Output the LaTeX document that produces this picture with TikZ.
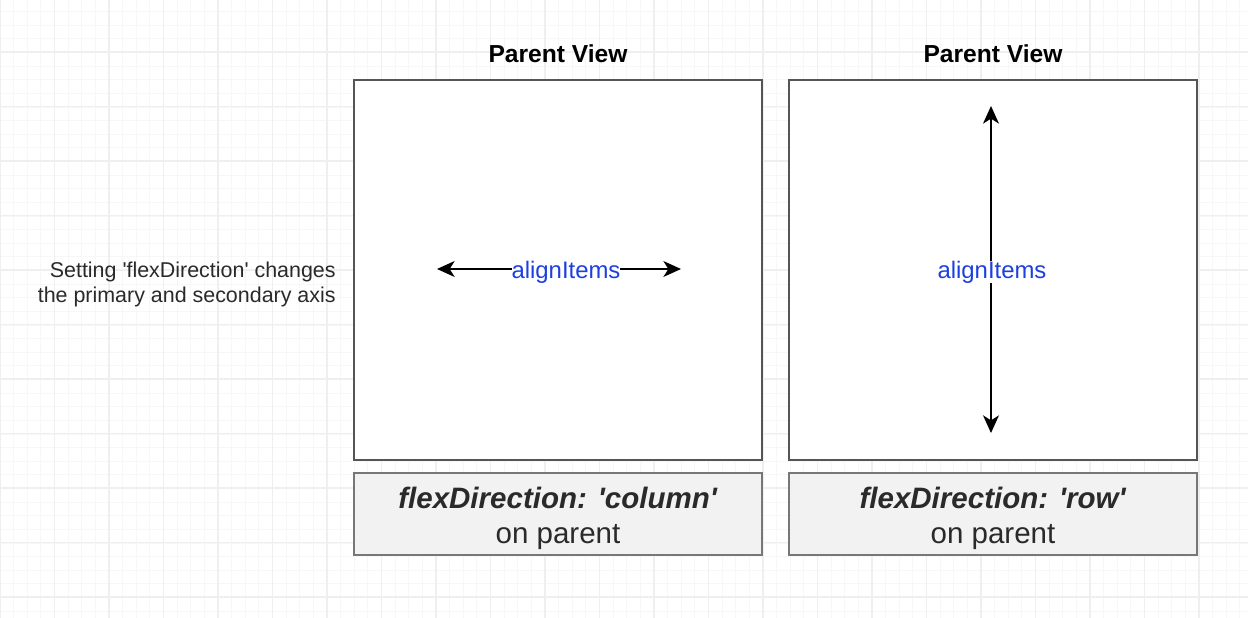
\documentclass[tikz,border=0pt]{standalone}
\usepackage{fontspec}
\setmainfont{Liberation Sans}[Ligatures=TeXOff]
\usetikzlibrary{arrows.meta}
\definecolor{gridminor}{HTML}{F7F7F7}
\definecolor{gridmajor}{HTML}{EFEFEF}
\definecolor{boxline}{HTML}{555555}
\definecolor{notefill}{HTML}{F2F2F2}
\definecolor{notetext}{HTML}{2A2A2A}
\definecolor{axisblue}{HTML}{1E3FE0}
\begin{document}
\begin{tikzpicture}[x=0.02cm,y=-0.02cm,
  viewbox/.style={draw=boxline,line width=1.3pt,fill=white,minimum width=408*0.02cm,minimum height=380*0.02cm,inner sep=0pt},
  notebox/.style={draw=boxline!80,line width=1pt,fill=notefill,minimum width=408*0.02cm,minimum height=82*0.02cm,inner sep=0pt},
  notetextstyle/.style={inner sep=0pt,align=center,text=notetext,font=\fontsize{16.8pt}{20pt}\selectfont},
  titletext/.style={font=\bfseries\fontsize{14pt}{17pt}\selectfont,text=black},
  axislabel/.style={fill=white,inner sep=0pt,text=axisblue,font=\fontsize{13.6pt}{16pt}\selectfont},
  axisarrow/.style={line width=1.3pt,{Stealth[length=10pt,width=9pt,inset=2.8pt]}-{Stealth[length=10pt,width=9pt,inset=2.8pt]}},
  sidetext/.style={align=right,text=notetext,font=\fontsize{12.2pt}{14.2pt}\selectfont,inner sep=0pt}]
\useasboundingbox (0,0) rectangle (1248,618);
\fill[white] (0,0) rectangle (1248,618);
% grid
\foreach \i in {0,...,92} {
  \draw[gridminor,line width=0.5pt] (\i*13.625,0) -- (\i*13.625,618);
}
\foreach \j in {0,...,46} {
  \draw[gridminor,line width=0.5pt] (0,\j*13.625-2) -- (1248,\j*13.625-2);
}
\foreach \i in {0,...,23} {
  \draw[gridmajor,line width=0.6pt] (\i*54.5,0) -- (\i*54.5,618);
}
\foreach \j in {0,...,11} {
  \draw[gridmajor,line width=0.6pt] (0,\j*54.5-2.5) -- (1248,\j*54.5-2.5);
}
% titles
\node[titletext] (t1) at (558,54) {Parent View};
\node[titletext] (t2) at (993,54) {Parent View};
% parent views
\node[viewbox] (v1) at (558,270) {};
\node[viewbox] (v2) at (993,270) {};
% notes
\node[notebox] (n1) at (558,514) {};
\node[notebox] (n2) at (993,514) {};
\node[notetextstyle] (n1t) at (558,518) {\textbf{\textit{flexDirection: 'column'}}\\on parent};
\node[notetextstyle] (n2t) at (993,518) {\textbf{\textit{flexDirection: 'row'}}\\on parent};
% arrows
\coordinate (l1) at (437,269);
\coordinate (r1) at (681,269);
\draw[axisarrow] (l1) -- (r1);
\node[axislabel] (a1) at (566,272) {alignItems};
\coordinate (u2) at (991,106);
\coordinate (d2) at (991,433);
\draw[axisarrow] (u2) -- (d2);
\node[axislabel] (a2) at (992,272) {alignItems};
% side text
\node[sidetext,anchor=east] (s) at (336,284) {Setting 'flexDirection' changes\\the primary and secondary axis};
\end{tikzpicture}
\end{document}
